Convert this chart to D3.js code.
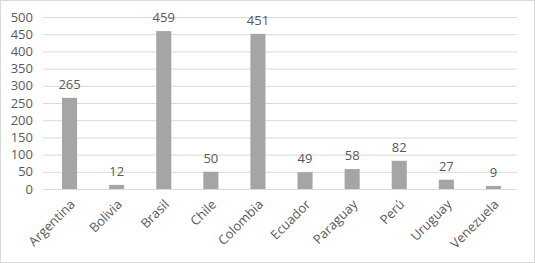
<!DOCTYPE html>
<html><head><meta charset="utf-8">
<script src="https://cdn.jsdelivr.net/npm/d3@7"></script>
<style>
html,body{margin:0;padding:0;background:#fff;}
svg{display:block;}
text{font-family:"Open Sans","Liberation Sans",sans-serif;fill:#595959;}
</style></head><body>
<script>
const categories = ["Argentina","Bolivia","Brasil","Chile","Colombia","Ecuador","Paraguay","Perú","Uruguay","Venezuela"];
const values = [265,12,459,50,451,49,58,82,27,9];
const yTicks = [0,50,100,150,200,250,300,350,400,450,500];

const W = 535, H = 263;
const m = {left:46, right:18, top:17, bottom:74};
const svg = d3.select("body").append("svg").attr("width",W).attr("height",H);
svg.append("rect").attr("x",0.5).attr("y",0.5).attr("width",W-1).attr("height",H-1)
  .attr("fill","#fff").attr("stroke","#d9d9d9");

const x = d3.scaleBand().domain(categories).range([m.left, W-m.right]).paddingInner(0.68).paddingOuter(0.34);
const y = d3.scaleLinear().domain([0,500]).range([H-m.bottom, m.top]);

const gy = svg.append("g").attr("transform",`translate(${m.left-3},0)`)
  .call(d3.axisLeft(y).tickValues(yTicks).tickSize(-(W-m.left-m.right+3)).tickPadding(10));
gy.select(".domain").remove();
gy.selectAll(".tick line").attr("stroke","#d9d9d9");
gy.selectAll(".tick text").attr("font-size","13px").attr("fill","#595959").attr("text-anchor","end");

svg.append("g").selectAll("rect").data(values).join("rect")
  .attr("x",(d,i)=>x(categories[i])).attr("width",x.bandwidth())
  .attr("y",d=>y(d)).attr("height",d=>y(0)-y(d)).attr("fill","#a5a5a5");

svg.append("g").selectAll("text").data(values).join("text")
  .attr("x",(d,i)=>x(categories[i])+x.bandwidth()/2).attr("y",d=>y(d)-9)
  .attr("text-anchor","middle").attr("font-size","13px").text(d=>d);

const gx = svg.append("g").attr("transform",`translate(0,${y(0)})`)
  .call(d3.axisBottom(x).tickSize(0).tickPadding(0));
gx.select(".domain").remove();
gx.selectAll(".tick text").attr("font-size","13px").attr("text-anchor","end")
  .attr("transform","translate(3,13) rotate(-45)").attr("dy","0.35em").attr("y",0);
</script>
</body></html>
